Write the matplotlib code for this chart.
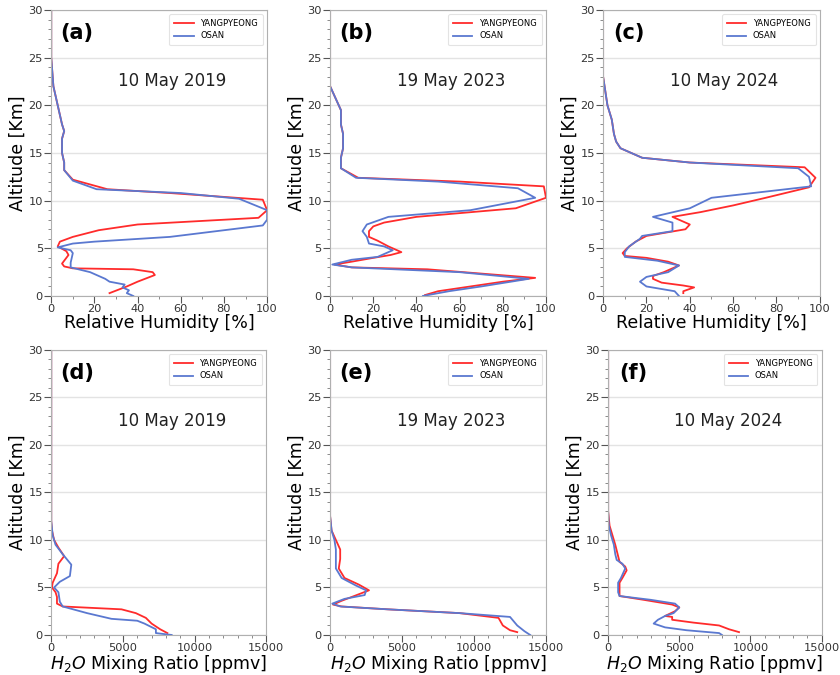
import matplotlib
matplotlib.use('Agg')
import matplotlib.pyplot as plt
from matplotlib.ticker import MultipleLocator

# --- relative humidity profiles [%] vs altitude [km] ---
rh_a_yp_x = [27, 35, 40, 48, 47, 38, 10, 6, 5, 8, 7, 3, 4, 10, 22, 40, 96, 100, 98, 55, 26, 10, 6, 6, 5, 5, 6, 5, 3, 1, 0, 0]
rh_a_yp_y = [0.3, 1.0, 1.5, 2.2, 2.5, 2.8, 2.9, 3.1, 3.4, 4.3, 4.7, 5.2, 5.7, 6.2, 6.9, 7.5, 8.2, 9.0, 10.1, 10.8, 11.2, 12.2, 13.2, 14, 15, 16.5, 17.3, 18, 20, 22, 25, 30]
rh_a_os_x = [38, 35, 36, 33, 34, 27, 25, 18, 9, 9, 10, 9, 3, 10, 20, 55, 98, 100, 100, 87, 60, 21, 10, 6, 6, 5, 5, 6, 5, 3, 1, 0, 0]
rh_a_os_y = [0.0, 0.3, 0.6, 0.9, 1.2, 1.5, 1.8, 2.5, 3.0, 3.5, 4.5, 4.8, 5.1, 5.5, 5.7, 6.2, 7.4, 8.0, 9.0, 10.2, 10.8, 11.2, 12.1, 13.2, 14, 15, 16.5, 17.3, 18, 20, 22, 25, 30]

rh_b_yp_x = [44, 50, 65, 80, 95, 45, 10, 2, 10, 20, 28, 33, 27, 22, 18, 18, 20, 25, 40, 86, 100, 99, 60, 13, 5, 5, 6, 6, 5, 5, 2, 0, 0]
rh_b_yp_y = [0.1, 0.5, 1.0, 1.5, 1.9, 2.8, 3.0, 3.3, 3.6, 4.0, 4.3, 4.6, 5.2, 5.8, 6.2, 6.8, 7.3, 7.7, 8.3, 9.2, 10.3, 11.5, 12.0, 12.4, 13.4, 14.5, 15.5, 17, 18, 19.5, 21, 22, 30]
rh_b_os_x = [43, 55, 70, 92, 60, 10, 1, 10, 22, 29, 25, 18, 17, 15, 17, 27, 65, 95, 87, 50, 12, 5, 5, 6, 6, 5, 5, 2, 0, 0]
rh_b_os_y = [0.0, 0.5, 1.0, 1.8, 2.5, 3.0, 3.3, 3.8, 4.1, 4.8, 5.2, 5.5, 6.2, 6.8, 7.5, 8.3, 9.0, 10.3, 11.3, 12.0, 12.4, 13.4, 14.5, 15.5, 17, 18, 19.5, 21, 22, 30]

rh_c_yp_x = [37, 37, 42, 37, 27, 23, 23, 28, 35, 30, 20, 10, 9, 11, 15, 20, 38, 40, 32, 45, 60, 75, 95, 98, 93, 40, 18, 8, 6, 5, 4, 2, 1, 0, 0]
rh_c_yp_y = [0.3, 0.5, 0.9, 1.1, 1.4, 1.8, 2.1, 2.5, 3.2, 3.6, 4.0, 4.2, 4.5, 5.0, 5.7, 6.3, 7.0, 7.5, 8.3, 8.8, 9.5, 10.3, 11.4, 12.4, 13.5, 14.0, 14.5, 15.5, 16.2, 17, 18.5, 20, 21.5, 23, 30]
rh_c_os_x = [35, 33, 20, 17, 20, 30, 35, 25, 10, 10, 12, 17, 18, 32, 32, 23, 40, 50, 96, 95, 90, 40, 18, 8, 6, 5, 4, 2, 1, 0, 0]
rh_c_os_y = [0.0, 0.5, 1.0, 1.5, 2.0, 2.5, 3.2, 3.7, 4.1, 4.6, 5.2, 6.0, 6.3, 6.8, 7.7, 8.3, 9.2, 10.3, 11.5, 12.5, 13.4, 14.0, 14.5, 15.5, 16.2, 17, 18.5, 20, 21.5, 23, 30]

# --- H2O mixing ratio profiles [ppmv] vs altitude [km] ---
mr_d_yp_x = [8100, 7600, 7000, 6600, 5900, 4900, 800, 400, 400, 300, 50, 100, 400, 500, 900, 500, 200, 50, 0, 0]
mr_d_yp_y = [0.2, 0.6, 1.2, 1.8, 2.3, 2.7, 3.0, 3.3, 4.0, 4.5, 5.0, 5.5, 6.5, 7.5, 8.3, 9.2, 10, 11, 12, 30]
mr_d_os_x = [8400, 7300, 7300, 6500, 6000, 4200, 2500, 800, 600, 500, 200, 600, 1300, 1400, 800, 300, 100, 0, 0]
mr_d_os_y = [0.0, 0.2, 0.6, 1.2, 1.5, 1.7, 2.3, 3.0, 3.5, 4.5, 5.0, 5.6, 6.2, 7.4, 8.5, 9.5, 10.5, 12, 30]

mr_e_yp_x = [13000, 12500, 12000, 11700, 9000, 4000, 800, 200, 800, 1500, 2700, 2000, 1000, 600, 700, 700, 400, 100, 0, 0]
mr_e_yp_y = [0.3, 0.5, 1.0, 1.8, 2.3, 2.7, 3.0, 3.2, 3.6, 4.0, 4.7, 5.3, 6.0, 7.0, 8.0, 9.0, 10.0, 11, 12.5, 30]
mr_e_os_x = [13900, 13500, 13000, 12500, 9000, 4000, 700, 150, 1000, 2400, 2500, 1800, 800, 400, 400, 400, 300, 100, 0, 0]
mr_e_os_y = [0.0, 0.4, 1.0, 1.9, 2.3, 2.7, 3.0, 3.3, 3.8, 4.2, 4.7, 5.2, 6.0, 7.0, 8.0, 9.0, 10, 11, 12.5, 30]

mr_f_yp_x = [9200, 8500, 7800, 6000, 4500, 4500, 4000, 4700, 5000, 4500, 2500, 800, 800, 800, 1000, 1300, 1200, 800, 700, 500, 300, 100, 0, 0]
mr_f_yp_y = [0.3, 0.6, 1.0, 1.3, 1.6, 1.9, 2.0, 2.5, 2.9, 3.2, 3.7, 4.1, 4.5, 5.5, 6.0, 6.8, 7.2, 7.7, 8.3, 9.5, 10.5, 11.5, 13, 30]
mr_f_os_x = [8000, 7800, 5500, 4000, 3200, 3500, 4000, 4600, 5000, 4700, 3000, 800, 700, 700, 900, 1200, 1000, 600, 500, 400, 200, 50, 0, 0]
mr_f_os_y = [0.0, 0.2, 0.5, 0.8, 1.2, 1.6, 2.0, 2.3, 2.9, 3.3, 3.7, 4.1, 4.5, 5.5, 6.0, 7.0, 7.5, 7.9, 8.5, 9.5, 10.5, 11.5, 13, 30]

panel_labels = ['(a)', '(b)', '(c)', '(d)', '(e)', '(f)']
dates = ['10 May 2019', '19 May 2023', '10 May 2024'] * 2

RED = '#ff2b2b'
BLUE = '#5a78d0'

fig = plt.figure(figsize=(8.4, 6.75), dpi=100)

positions = [
    [0.061, 0.5615, 0.257, 0.4237],
    [0.393, 0.5615, 0.257, 0.4237],
    [0.718, 0.5615, 0.258, 0.4237],
    [0.061, 0.0593, 0.256, 0.4222],
    [0.393, 0.0593, 0.257, 0.4222],
    [0.724, 0.0593, 0.254, 0.4222],
]

profiles = [
    (rh_a_yp_x, rh_a_yp_y, rh_a_os_x, rh_a_os_y),
    (rh_b_yp_x, rh_b_yp_y, rh_b_os_x, rh_b_os_y),
    (rh_c_yp_x, rh_c_yp_y, rh_c_os_x, rh_c_os_y),
    (mr_d_yp_x, mr_d_yp_y, mr_d_os_x, mr_d_os_y),
    (mr_e_yp_x, mr_e_yp_y, mr_e_os_x, mr_e_os_y),
    (mr_f_yp_x, mr_f_yp_y, mr_f_os_x, mr_f_os_y),
]

for i, (pos, prof) in enumerate(zip(positions, profiles)):
    ax = fig.add_axes(pos)
    yx, yy, ox, oy = prof
    ax.plot(yx, yy, color=RED, lw=1.3, label='YANGPYEONG')
    ax.plot(ox, oy, color=BLUE, lw=1.3, label='OSAN')

    ax.set_ylim(0, 30)
    ax.yaxis.set_major_locator(MultipleLocator(5))
    ax.yaxis.set_minor_locator(MultipleLocator(1))
    if i < 3:
        ax.set_xlim(0, 100)
        ax.xaxis.set_major_locator(MultipleLocator(20))
        ax.xaxis.set_minor_locator(MultipleLocator(10))
        ax.set_xlabel('Relative Humidity [%]', fontsize=12.5, labelpad=0)
    else:
        ax.set_xlim(0, 15000)
        ax.xaxis.set_major_locator(MultipleLocator(5000))
        ax.xaxis.set_minor_locator(MultipleLocator(1000))
        ax.set_xlabel('$H_2O$ Mixing Ratio [ppmv]', fontsize=12.5, labelpad=0)
    ax.set_ylabel('Altitude [Km]', fontsize=12.5, labelpad=1)

    ax.grid(axis='y', color='#e3e3e3', lw=1.0)
    ax.set_axisbelow(True)
    for sp in ax.spines.values():
        sp.set_color('#b0b0b0')
    ax.tick_params(which='major', length=5, color='#555555', labelsize=8.2,
                   labelcolor='#333333', pad=1)
    ax.tick_params(which='minor', length=2.5, color='#777777')

    ax.text(0.12, 0.92, panel_labels[i], transform=ax.transAxes,
            fontsize=15, fontweight='bold', ha='center', va='center')
    ax.text(0.56, 0.75, dates[i], transform=ax.transAxes,
            fontsize=12, ha='center', va='center', color='#222222')
    leg = ax.legend(loc='upper right', fontsize=6, frameon=True,
                    handlelength=2.3, borderpad=0.6, labelspacing=0.4)
    leg.get_frame().set_edgecolor('#dddddd')
    leg.get_frame().set_linewidth(0.8)

fig.savefig('out.png', dpi=100)
